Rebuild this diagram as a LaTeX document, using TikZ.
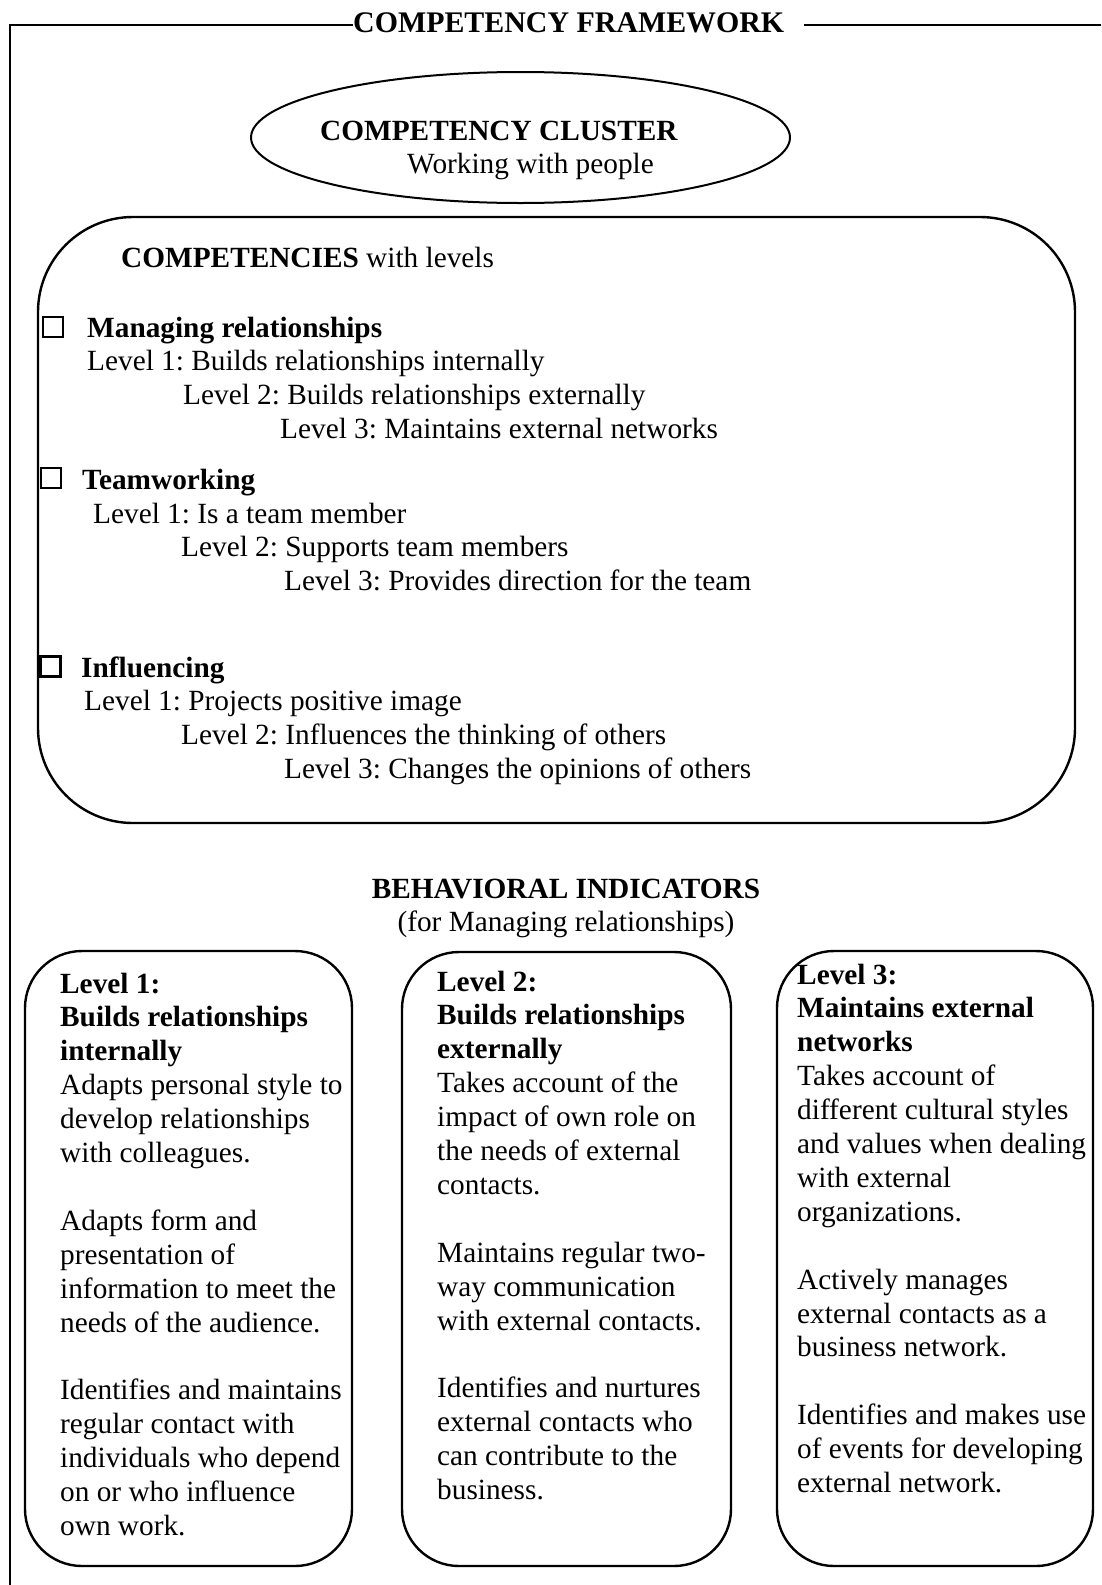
\documentclass[tikz,border=0pt]{standalone}
\usepackage{fontspec}
\setmainfont{Liberation Serif}
\usetikzlibrary{shapes.geometric,calc}
\newcommand{\bodysize}{\fontsize{29.3}{33.9}\selectfont}
\frenchspacing
\begin{document}
\begin{tikzpicture}[x=1pt,y=-1pt,
  txt/.style={anchor=base west, inner sep=0pt, font=\bodysize},
  hd/.style={txt, font=\bodysize\bfseries},
  frameline/.style={line width=2pt},
  panel/.style={draw, rectangle, inner sep=0pt, line width=2.4pt},
  tickbox/.style={draw, rectangle, inner sep=0pt, line width=2.4pt, minimum size=20pt},
  bitext/.style={anchor=base west, inner sep=0pt}]
\useasboundingbox (0,0) rectangle (1101,1585);

% outer frame: title rule and left edge
\node[anchor=base west, inner sep=0pt, font=\fontsize{29.9}{34}\selectfont\bfseries] (title) at (353,32) {COMPETENCY FRAMEWORK};
\coordinate (tl) at (10,24.5);
\coordinate (tr) at (1101,24.5);
\coordinate (bl) at (10,1585);
\draw[frameline] (bl) -- (tl) -- (tl -| title.west);
\draw[frameline] ($(tr -| title.east)+(20,0)$) -- (tr);

% competency cluster
\node[draw, ellipse, inner sep=0pt, line width=2pt, minimum width=539pt, minimum height=131pt] (cluster) at (520.5,137.5) {};
\node[hd] (clhead) at (320,140) {COMPETENCY CLUSTER};
\node[txt] (clsub) at (407,173) {Working with people};

% competencies panel
\node[panel, rounded corners=95pt, minimum width=1037pt, minimum height=606pt] (comp) at (556.5,520) {};
\node[txt] (comphead) at (121,267) {\textbf{COMPETENCIES} with levels};

\node[tickbox] (cb1) at (53,327) {};
\node[hd] (mr) at (87,337) {Managing relationships};
\node[txt] (mr1) at (87,370) {Level 1: Builds relationships internally};
\node[txt] (mr2) at (183,404) {Level 2: Builds relationships externally};
\node[txt] (mr3) at (280,438) {Level 3: Maintains external networks};

\node[tickbox] (cb2) at (51,478) {};
\node[hd] (tw) at (82,489) {Teamworking};
\node[txt] (tw1) at (93,523) {Level 1: Is a team member};
\node[txt] (tw2) at (181,556) {Level 2: Supports team members};
\node[txt] (tw3) at (284,590) {Level 3: Provides direction for the team};

\node[tickbox] (cb3) at (50.5,666.5) {};
\node[hd] (inf) at (81,677) {Influencing};
\node[txt] (inf1) at (84,710) {Level 1: Projects positive image};
\node[txt] (inf2) at (181,744) {Level 2: Influences the thinking of others};
\node[txt] (inf3) at (284,778) {Level 3: Changes the opinions of others};

% behavioral indicators
\node[anchor=base, inner sep=0pt, font=\bodysize\bfseries] (bihead) at (566,898) {BEHAVIORAL INDICATORS};
\node[anchor=base, inner sep=0pt, font=\bodysize] (bisub) at (566,931) {(for Managing relationships)};

\node[panel, rounded corners=57pt, minimum width=327pt, minimum height=615pt] (lv1) at (188.5,1258.5) {};
\node[panel, rounded corners=57pt, minimum width=329pt, minimum height=614pt] (lv2) at (566.5,1259) {};
\node[panel, rounded corners=57pt, minimum width=316pt, minimum height=615pt] (lv3) at (935,1258.5) {};

\node[bitext] (lv1text) at (60,993) {\parbox[t]{340pt}{\raggedright\bodysize
\textbf{Level 1:}\\
\textbf{Builds relationships}\\
\textbf{internally}\\
Adapts personal style to\\
develop relationships\\
with colleagues.\\[33.9pt]
Adapts form and\\
presentation of\\
information to meet the\\
needs of the audience.\\[33.9pt]
Identifies and maintains\\
regular contact with\\
individuals who depend\\
on or who influence\\
own work.}};

\node[bitext] (lv2text) at (437,991) {\parbox[t]{340pt}{\raggedright\bodysize
\textbf{Level 2:}\\
\textbf{Builds relationships}\\
\textbf{externally}\\
Takes account of the\\
impact of own role on\\
the needs of external\\
contacts.\\[33.9pt]
Maintains regular two-\\
way communication\\
with external contacts.\\[33.9pt]
Identifies and nurtures\\
external contacts who\\
can contribute to the\\
business.}};

\node[bitext] (lv3text) at (797,984) {\parbox[t]{340pt}{\raggedright\bodysize
\textbf{Level 3:}\\
\textbf{Maintains external}\\
\textbf{networks}\\
Takes account of\\
different cultural styles\\
and values when dealing\\
with external\\
organizations.\\[33.9pt]
Actively manages\\
external contacts as a\\
business network.\\[33.9pt]
Identifies and makes use\\
of events for developing\\
external network.}};
\end{tikzpicture}
\end{document}
